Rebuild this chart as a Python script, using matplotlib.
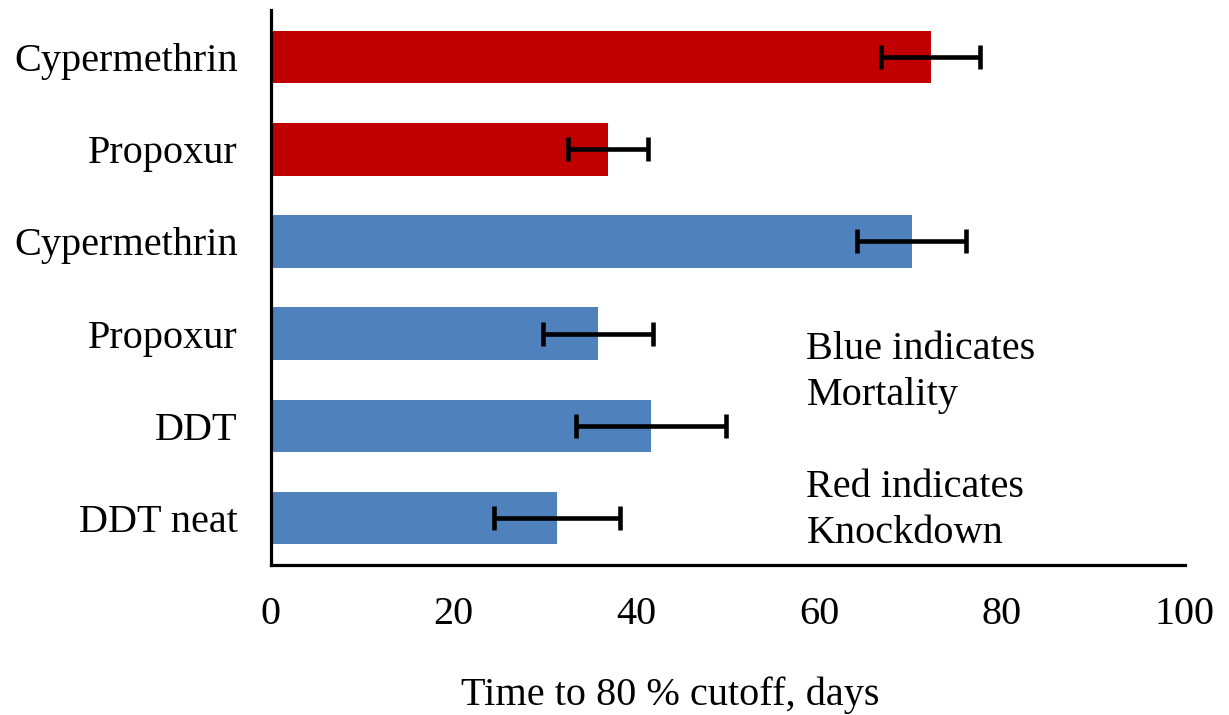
import matplotlib
matplotlib.use("Agg")
import matplotlib.pyplot as plt

categories = ["DDT neat", "DDT", "Propoxur", "Cypermethrin", "Propoxur", "Cypermethrin"]
values = [31.3, 41.6, 35.8, 70.1, 36.9, 72.2]
errors = [6.9, 8.2, 6.0, 6.0, 4.4, 5.4]
colors = ["#4F81BD", "#4F81BD", "#4F81BD", "#4F81BD", "#C00000", "#C00000"]
xlabel = "Time to 80 % cutoff, days"

plt.rcParams['font.family'] = ['Liberation Serif', 'DejaVu Serif']

fig = plt.figure(figsize=(12.29, 7.15), dpi=100)
ax = fig.add_axes([0.2205, 0.2098, 0.7435, 0.776])

y = list(range(len(categories)))
ax.barh(y, values, height=0.57, color=colors)
ax.errorbar(values, y, xerr=errors, fmt='none', ecolor='black',
            elinewidth=3.3, capsize=8.5, capthick=3.3)

ax.set_xlim(0, 100)
ax.set_ylim(-0.51, 5.51)
ax.set_xticks([0, 20, 40, 60, 80, 100])
ax.set_yticks(y)
ax.set_yticklabels(categories)
ax.tick_params(axis='both', length=0, labelsize=29)
ax.tick_params(axis='x', pad=22)
ax.tick_params(axis='y', pad=24)
for s in ['top', 'right']:
    ax.spines[s].set_visible(False)
for s in ['left', 'bottom']:
    ax.spines[s].set_linewidth(2.3)
ax.set_xlabel(xlabel, fontsize=29)
ax.xaxis.set_label_coords(0.4365, -0.2)

ax.text(58.6, 1.58, "Blue indicates\nMortality", fontsize=29, va='center', ha='left',
        linespacing=1.3)
ax.text(58.6, 0.08, "Red indicates\nKnockdown", fontsize=29, va='center', ha='left',
        linespacing=1.3)

fig.savefig("out.png", dpi=100)
